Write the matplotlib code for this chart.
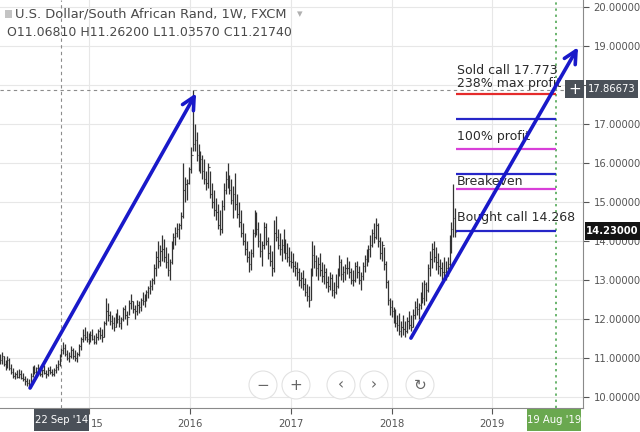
import matplotlib
matplotlib.use("Agg")
import matplotlib.pyplot as plt
import matplotlib.dates as mdates
from matplotlib.patches import Rectangle, Ellipse
import numpy as np

# weekly USD/ZAR bars, first week 2014-02-10
highs = [11.10, 11.15, 11.05, 10.95, 11.05, 11.00, 10.85, 10.75, 10.65, 10.70,
         10.72, 10.68, 10.62, 10.55, 10.50, 10.45, 10.62, 10.80, 10.82, 10.78,
         10.85, 10.78, 10.72, 10.82, 10.70, 10.78, 10.80, 10.72, 10.75, 10.85,
         10.95, 11.10, 11.262, 11.40, 11.35, 11.20, 11.15, 11.30, 11.25, 11.20,
         11.15, 11.35, 11.55, 11.75, 11.80, 11.70, 11.65, 11.70, 11.75, 11.60,
         11.65, 11.75, 11.80, 11.75, 11.95, 12.55, 12.40, 12.20, 12.10, 12.05,
         12.15, 12.25, 12.10, 12.05, 12.30, 12.35, 12.20, 12.50, 12.65, 12.45,
         12.35, 12.50, 12.45, 12.55, 12.70, 12.65, 12.75, 12.85, 13.00, 13.05,
         13.40, 13.75, 14.00, 13.90, 14.15, 14.05, 13.85, 13.70, 13.55, 14.00,
         14.20, 14.35, 14.45, 14.45, 14.75, 16.00, 15.65, 15.60, 15.90, 16.40,
         17.87, 17.00, 16.80, 16.50, 16.30, 16.20, 16.10, 15.80, 16.00, 15.80,
         15.50, 15.30, 15.10, 14.95, 14.80, 15.05, 15.50, 15.80, 16.00, 15.70,
         15.60, 15.40, 15.75, 15.20, 15.00, 14.80, 14.45, 14.20, 14.00, 13.75,
         13.80, 14.30, 14.80, 14.75, 14.50, 14.20, 14.00, 14.50, 14.45, 14.10,
         13.90, 13.75, 14.55, 14.65, 14.30, 14.20, 14.05, 14.30, 14.05, 13.95,
         13.85, 13.75, 13.70, 13.50, 13.45, 13.30, 13.20, 13.25, 13.05, 12.90,
         12.85, 13.30, 14.00, 13.90, 13.65, 13.60, 13.70, 13.45, 13.40, 13.30,
         13.10, 13.20, 13.15, 12.95, 13.15, 13.30, 13.65, 13.55, 13.35, 13.40,
         13.60, 13.50, 13.30, 13.25, 13.45, 13.50, 13.35, 13.20, 13.45, 13.65,
         13.80, 13.90, 14.15, 14.30, 14.45, 14.60, 14.45, 14.10, 14.00, 13.85,
         13.50, 13.00, 12.55, 12.50, 12.30, 12.25, 12.10, 12.15, 11.95, 12.10,
         11.95, 12.05, 12.20, 12.10, 12.25, 12.45, 12.55, 12.40, 12.70, 12.95,
         13.00, 12.95, 13.40, 13.75, 13.95, 14.00, 13.85, 13.70, 13.55, 13.45,
         13.60, 13.50, 13.60, 14.15, 14.50, 15.45, 14.85]
lows = [10.85, 10.85, 10.80, 10.70, 10.75, 10.70, 10.60, 10.50, 10.45, 10.48,
        10.48, 10.45, 10.40, 10.32, 10.28, 10.24, 10.32, 10.52, 10.58, 10.55,
        10.60, 10.55, 10.52, 10.58, 10.50, 10.55, 10.60, 10.55, 10.55, 10.62,
        10.70, 10.80, 11.0357, 11.10, 11.05, 10.95, 10.90, 11.00, 10.98, 10.92,
        10.90, 11.05, 11.20, 11.40, 11.45, 11.40, 11.35, 11.40, 11.45, 11.35,
        11.35, 11.45, 11.50, 11.40, 11.55, 11.85, 11.95, 11.85, 11.75, 11.70,
        11.80, 11.90, 11.80, 11.75, 11.95, 12.00, 11.85, 12.10, 12.25, 12.15,
        12.00, 12.10, 12.15, 12.20, 12.35, 12.30, 12.45, 12.55, 12.65, 12.75,
        12.90, 13.10, 13.30, 13.35, 13.50, 13.45, 13.30, 13.10, 13.00, 13.40,
        13.80, 13.90, 14.10, 14.05, 14.30, 14.60, 15.00, 15.05, 15.45, 15.75,
        16.30, 16.30, 16.05, 15.80, 15.75, 15.60, 15.45, 15.30, 15.35, 15.10,
        14.85, 14.65, 14.55, 14.30, 14.15, 14.20, 14.80, 15.20, 15.35, 15.20,
        14.95, 14.60, 14.80, 14.60, 14.35, 14.10, 13.90, 13.65, 13.45, 13.20,
        13.25, 13.60, 14.10, 14.15, 13.85, 13.60, 13.35, 13.80, 13.90, 13.55,
        13.35, 13.10, 13.20, 14.00, 13.80, 13.65, 13.50, 13.70, 13.55, 13.45,
        13.35, 13.30, 13.20, 13.10, 13.00, 12.85, 12.80, 12.75, 12.60, 12.45,
        12.30, 12.50, 13.10, 13.30, 13.10, 13.00, 13.10, 12.95, 12.90, 12.80,
        12.70, 12.75, 12.60, 12.55, 12.65, 12.80, 13.10, 13.00, 12.95, 13.00,
        13.15, 13.05, 12.90, 12.85, 12.95, 13.05, 12.90, 12.75, 13.00, 13.20,
        13.35, 13.45, 13.60, 13.85, 13.95, 14.05, 13.85, 13.55, 13.50, 13.25,
        12.80, 12.35, 12.10, 12.05, 11.90, 11.80, 11.70, 11.60, 11.55, 11.60,
        11.55, 11.65, 11.75, 11.70, 11.80, 12.00, 12.10, 12.00, 12.25, 12.40,
        12.35, 12.45, 12.70, 13.10, 13.30, 13.45, 13.25, 13.15, 13.10, 13.00,
        13.05, 13.00, 13.10, 13.30, 13.70, 14.10, 14.10]
closes = [10.95, 11.05, 10.85, 10.75, 10.95, 10.75, 10.65, 10.55, 10.60, 10.52,
          10.60, 10.50, 10.45, 10.40, 10.35, 10.30, 10.55, 10.72, 10.65, 10.75,
          10.70, 10.60, 10.68, 10.62, 10.58, 10.70, 10.65, 10.60, 10.70, 10.78,
          10.85, 11.07, 11.2174, 11.25, 11.10, 11.00, 11.05, 11.20, 11.05, 11.00,
          11.10, 11.30, 11.50, 11.60, 11.55, 11.50, 11.45, 11.60, 11.50, 11.40,
          11.55, 11.70, 11.60, 11.55, 11.90, 12.20, 12.10, 11.95, 11.90, 11.80,
          12.10, 12.00, 11.90, 12.00, 12.25, 12.10, 12.05, 12.40, 12.45, 12.25,
          12.20, 12.35, 12.30, 12.50, 12.45, 12.60, 12.70, 12.80, 12.85, 13.00,
          13.30, 13.60, 13.50, 13.75, 13.80, 13.60, 13.45, 13.25, 13.45, 13.90,
          14.10, 14.20, 14.30, 14.40, 14.65, 15.30, 15.45, 15.50, 15.85, 16.20,
          16.50, 16.60, 16.20, 15.95, 16.10, 15.80, 15.60, 15.50, 15.90, 15.20,
          15.00, 14.80, 14.75, 14.40, 14.30, 14.90, 15.30, 15.60, 15.60, 15.30,
          15.05, 15.20, 14.95, 14.70, 14.50, 14.20, 14.00, 13.80, 13.60, 13.40,
          13.70, 14.20, 14.45, 14.30, 14.00, 13.75, 13.90, 14.35, 14.00, 13.70,
          13.50, 13.30, 14.20, 14.10, 13.90, 13.80, 13.90, 13.85, 13.70, 13.60,
          13.50, 13.45, 13.35, 13.30, 13.20, 13.00, 13.05, 12.90, 12.70, 12.60,
          12.50, 13.20, 13.65, 13.50, 13.30, 13.40, 13.25, 13.10, 13.20, 12.95,
          12.85, 13.05, 12.75, 12.70, 12.85, 13.20, 13.45, 13.15, 13.20, 13.30,
          13.30, 13.20, 13.00, 13.00, 13.35, 13.20, 13.00, 13.10, 13.35, 13.55,
          13.50, 13.80, 13.90, 14.20, 14.10, 14.40, 14.00, 13.70, 13.90, 13.40,
          12.95, 12.50, 12.30, 12.20, 12.15, 11.90, 11.85, 11.70, 11.80, 11.75,
          11.70, 11.95, 11.85, 11.80, 12.10, 12.30, 12.25, 12.35, 12.60, 12.55,
          12.90, 12.75, 13.30, 13.55, 13.80, 13.60, 13.45, 13.35, 13.30, 13.20,
          13.20, 13.30, 13.40, 13.95, 14.30, 14.60, 14.23]
first_open = 11.00

# trade levels drawn on the right
levels = [17.773, 17.13, 16.36, 15.72, 15.33, 14.268]
level_colors = ["#e52b2b", "#2626c8", "#d83fd8", "#2626c8", "#d83fd8", "#2626c8"]
notes = ["Sold call 17.773", "238% max profit", "100% profit", "Breakeven", "Bought call 14.268"]
note_y = [18.36, 18.05, 16.67, 15.53, 14.60]

year_ticks = ["2015", "2016", "2017", "2018", "2019"]
W, H = 640, 432

dates = mdates.date2num(np.datetime64("2014-02-10") + np.arange(len(highs)) * np.timedelta64(7, "D"))
opens = [first_open] + closes[:-1]

fig = plt.figure(figsize=(6.4, 4.32), dpi=100)
ax = fig.add_axes([0, 24 / H, 583 / W, 408 / H])

def day(s):
    return mdates.datestr2num(s)

ax.set_xlim(day("2014-02-11"), day("2019-11-26"))
ax.set_ylim(9.718, 20.18)

# 18.00000 sits under the crosshair price box, so it is left blank
ax.set_yticks(range(10, 21))
ax.yaxis.tick_right()
ax.yaxis.set_major_formatter(plt.FuncFormatter(lambda v, p: "" if v == 18 else "%.5f" % v))
ax.set_xticks([day(y + "-01-01") for y in year_ticks])
ax.set_xticklabels([""] + year_ticks[1:])
ax.tick_params(axis="both", labelsize=7.2, colors="#555555", length=4, width=0.8)
ax.tick_params(axis="x", pad=4)
ax.grid(color="#e7e7e7", lw=0.8)
ax.set_axisbelow(True)
for s in ["top", "left"]:
    ax.spines[s].set_visible(False)
for s in ["right", "bottom"]:
    ax.spines[s].set_color("#8a8a8a")

# ohlc bars
ax.vlines(dates, lows, highs, color="#333333", lw=0.9, zorder=3)
ax.hlines(closes, dates, dates + 2.6, color="#333333", lw=0.8, zorder=3)
ax.hlines(opens, dates - 2.6, dates, color="#333333", lw=0.8, zorder=3)

# crosshair + target date
ax.axvline(day("2014-09-22"), color="#8c8c8c", lw=0.8, ls=(0, (3, 3)), zorder=2)
ax.axhline(17.86673, color="#8c8c8c", lw=0.8, ls=(0, (3, 3)), zorder=2)
ax.axvline(day("2019-08-19"), color="#43a047", lw=1.1, ls=(0, (1.5, 2.5)), zorder=2)

# levels and their notes
ax.hlines(levels, day("2018-08-22"), day("2019-08-19"), colors=level_colors, lw=1.6, zorder=4)
for t, y in zip(notes, note_y):
    ax.text(day("2018-08-27"), y, t, fontsize=9, color="#2a2a2a", va="center", zorder=5)

# trend arrows
arrow = dict(arrowstyle="->,head_length=0.9,head_width=0.45", color="#1919c9", lw=2.6,
             shrinkA=0, shrinkB=0)
ax.annotate("", xy=(day("2016-01-23"), 17.79), xytext=(day("2014-05-31"), 10.23), arrowprops=arrow, zorder=6)
ax.annotate("", xy=(day("2019-11-08"), 18.97), xytext=(day("2018-03-12"), 11.51), arrowprops=arrow, zorder=6)

def box(x0, y0, x1, y1, color, text, tcolor="white", size=7.2, weight="normal"):
    fig.add_artist(Rectangle((x0 / W, 1 - y1 / H), (x1 - x0) / W, (y1 - y0) / H,
                             transform=fig.transFigure, facecolor=color, edgecolor="none", zorder=10))
    fig.text((x0 + x1) / 2 / W, 1 - (y0 + y1) / 2 / H, text, color=tcolor, fontsize=size,
             weight=weight, ha="center", va="center", zorder=11)

box(586, 80, 638, 98, "#4a5058", "17.86673")
box(565, 80, 584, 98, "#4a5058", "+", size=11)
box(585, 222, 640, 240, "#131313", "14.23000", weight="bold")
box(34, 409, 89, 431, "#4a5058", "22 Sep '14")
box(527, 409, 581, 431, "#6aa84f", "19 Aug '19")
# the 2015 label peeks out from behind the date box
fig.text(91 / W, 1 - 424 / H, "15", fontsize=7.2, color="#555555", va="center")

# header
fig.add_artist(Rectangle((5 / W, 1 - 18 / H), 7 / W, 8 / H, transform=fig.transFigure,
                         facecolor="#c4c4c4", edgecolor="none"))
fig.text(15 / W, 1 - 14 / H, "U.S. Dollar/South African Rand, 1W, FXCM", fontsize=9.4,
         color="#4a4a4a", va="center")
fig.text(297 / W, 1 - 14 / H, "▾", fontsize=8, color="#b0b0b0", va="center")
fig.text(7 / W, 1 - 33 / H, "O11.06810 H11.26200 L11.03570 C11.21740", fontsize=9,
         color="#4a4a4a", va="center")

# zoom buttons
for cx, sym in zip([263, 296, 341, 374, 420], ["−", "+", "‹", "›", "↻"]):
    fig.add_artist(Ellipse((cx / W, 1 - 385 / H), 28 / W, 28 / H, transform=fig.transFigure,
                           facecolor="white", edgecolor="#e2e2e2", lw=0.8, zorder=8))
    fig.text(cx / W, 1 - 385 / H, sym, fontsize=11, color="#666666", ha="center", va="center", zorder=9)

fig.savefig("out.png", dpi=100)
